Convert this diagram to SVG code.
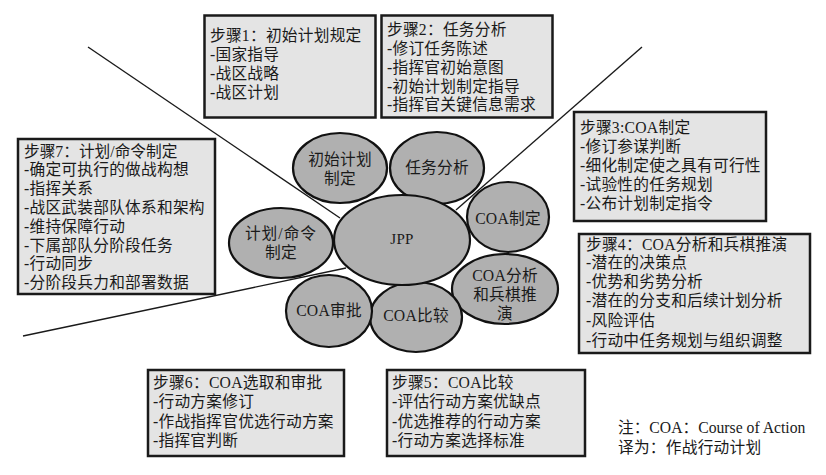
<svg xmlns="http://www.w3.org/2000/svg" width="826" height="475" viewBox="0 0 826 475">
<style>
text{font-family:"Liberation Serif","Noto Sans CJK SC",serif;font-size:15.7px;letter-spacing:.25px;fill:#1a1a1a}
.box{fill:#e4e4e4;stroke:#1a1a1a;stroke-width:2.5}
.el{fill:#b0b0b0;stroke:#111;stroke-width:2.2}
.c{text-anchor:middle}
.w{letter-spacing:1px}
.ln{stroke:#1a1a1a;stroke-width:1.4;fill:none}
</style>
<rect width="826" height="475" fill="#fff"/>
<g id="connectors">
<path class="ln" d="M88 47L340 218"/>
<path class="ln" d="M642 47L456 210"/>
<path class="ln" d="M23 336L346 268"/>
</g>
<g id="step1"><rect class="box" x="204.500" y="15.500" width="171" height="102"/>
<text x="210" y="41">步骤1：初始计划规定</text><text x="210" y="60">-国家指导</text><text x="210" y="79">-战区战略</text><text x="210" y="98">-战区计划</text></g>
<g id="step2"><rect class="box" x="381.500" y="15.500" width="171" height="102"/>
<text x="387" y="35">步骤2：任务分析</text><text x="387" y="54">-修订任务陈述</text><text x="387" y="73">-指挥官初始意图</text><text x="387" y="92">-初始计划制定指导</text><text x="387" y="110">-指挥官关键信息需求</text></g>
<g id="step3"><rect class="box" x="574" y="112" width="192" height="109"/>
<text x="580" y="133">步骤3:COA制定</text><text x="580" y="152">-修订参谋判断</text><text x="580" y="171">-细化制定使之具有可行性</text><text x="580" y="190">-试验性的任务规划</text><text x="580" y="209">-公布计划制定指令</text></g>
<g id="step4"><rect class="box" x="579" y="234" width="231" height="119"/>
<text x="586" y="250">步骤4：COA分析和兵棋推演</text><text x="586" y="268">-潜在的决策点</text><text x="586" y="287">-优势和劣势分析</text><text x="586" y="306">-潜在的分支和后续计划分析</text><text x="586" y="326">-风险评估</text><text x="586" y="346">-行动中任务规划与组织调整</text></g>
<g id="step5"><rect class="box" x="387" y="370" width="198" height="86"/>
<text x="392" y="388">步骤5：COA比较</text><text x="392" y="407">-评估行动方案优缺点</text><text x="392" y="427">-优选推荐的行动方案</text><text x="392" y="446">-行动方案选择标准</text></g>
<g id="step6"><rect class="box" x="148" y="370" width="196" height="86"/>
<text x="153" y="388">步骤6：COA选取和审批</text><text x="153" y="407">-行动方案修订</text><text x="153" y="427">-作战指挥官优选行动方案</text><text x="153" y="446">-指挥官判断</text></g>
<g id="step7"><rect class="box" x="18" y="139" width="197" height="155"/>
<text x="24" y="157" style="letter-spacing:0">步骤7：计划/命令制定</text><text x="24" y="175">-确定可执行的做战构想</text><text x="24" y="194">-指挥关系</text><text x="24" y="213">-战区武装部队体系和架构</text><text x="24" y="232">-维持保障行动</text><text x="24" y="251">-下属部队分阶段任务</text><text x="24" y="269">-行动同步</text><text x="24" y="288">-分阶段兵力和部署数据</text></g>
<g id="n-init"><ellipse class="el" cx="340" cy="168" rx="47" ry="35"/><text class="c" x="340" y="165">初始计划</text><text class="c" x="340" y="184">制定</text></g>
<g id="n-mission"><ellipse class="el" cx="437" cy="168" rx="47" ry="36"/><text class="c" x="437" y="173">任务分析</text></g>
<g id="n-coa-dev"><ellipse class="el" cx="508" cy="217" rx="41" ry="35"/><text class="c" x="508" y="224">COA制定</text></g>
<g id="n-coa-an"><ellipse class="el" cx="505" cy="289" rx="53" ry="35"/><text class="c" x="505" y="281">COA分析</text><text class="c" x="505" y="300">和兵棋推</text><text class="c" x="505" y="319">演</text></g>
<g id="n-coa-cmp"><ellipse class="el" cx="416" cy="317" rx="46" ry="35"/><text class="c" x="416" y="321">COA比较</text></g>
<g id="n-coa-app"><ellipse class="el" cx="329" cy="311" rx="43" ry="36"/><text class="c" x="329" y="316">COA审批</text></g>
<g id="n-plan"><ellipse class="el" cx="281" cy="243" rx="52" ry="35"/><text class="c w" x="281" y="239">计划/命令</text><text class="c" x="281" y="258">制定</text></g>
<g id="n-jpp"><ellipse class="el" cx="402" cy="240" rx="68" ry="45"/><text class="c" x="402" y="244" style="font-size:15px">JPP</text></g>
<g id="note"><text x="618" y="433" style="letter-spacing:0">注：COA：Course of Action</text><text x="618" y="453">译为：作战行动计划</text></g>
</svg>
